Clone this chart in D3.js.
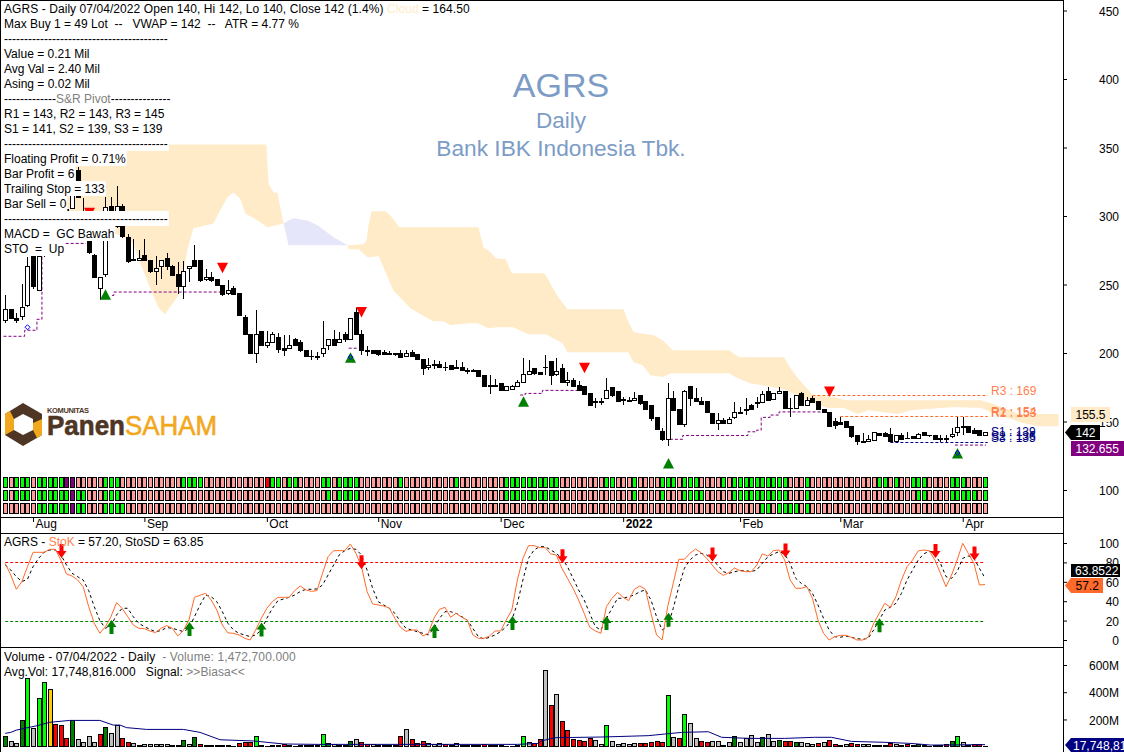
<!DOCTYPE html>
<html>
<head>
<meta charset="utf-8">
<title>AGRS Daily</title>
<script src="https://cdn.jsdelivr.net/npm/d3@7"></script>
<style>
	html, body { margin: 0; padding: 0; background: #fff; }
	svg { display: block; }
	text { font-family: "Liberation Sans", Arial, sans-serif; font-size: 12px; white-space: pre; fill: #000; }
</style>
</head>
<body>
<svg id="chart" width="1124" height="752"></svg>
<script>
// ── Candles ───────────────────────────────────────────────────────────────────
const opens = [
	223.5,231.5,225,227,235,270.5,245.3,272,282,295, 300,305,305.5,333,303,285,271.5,247,257,307,
	292,307,284,268.5,267.2,271.5,267.7,259.2,262.8,268.9, 263.3,257.4,248.7,261.6,267.4,267.4,253.3,255,253.6,249.2,
	243.4,247.2,243.4,225.6,213.7,199.6,215.9,205.2,207.4,211.3, 203.3,203.3,210.1,207.6,201.8,197.4,197.2,199.6,205.2,209.8,
	207.4,213.5,209.8,229.8,213.5,201.6,202.1,202,200.1,199.6, 199.6,199.6,197.2,200.1,198.9,195.2,189.4,191.6,191.8,189.7,
	191.1,189.4,189.7,187.2,187,187.5,183.6,176.3,176.3,178, 172.4,173.1,175.3,178.2,184,188.7,185.8,189.7,194,184,
	188.7,178.2,180.2,176.5,175.6,170.5,164.6,164.6,166.6,174.8, 171.9,165.8,165.6,165.1,169,164.6,161.7,153,142.8,136.9,
	166.8,158.8,147.9,175.6,166.8,164.6,164.6,156.1,148.6,150.8, 148.3,152.7,156.6,158.8,161.4,163.9,163.9,171.6,166.3,170.4,
	171.6,159.5,159.2,170.4,161.4,166.8,164.3,159,156.3,150.3, 149,150.3,146.6,139.8,135.4,135.2,136.4,141.3,141.3,140.5,
	135.2,139.5,137.6,139.3,137.4,141.7,139.6,140,137.4,137.4, 138.8,142,146.1,146.1,143.2,143.7,139.5
];
const highs = [
	242.5,231.5,229,250.5,270,275,272,285,298,303, 308,308,320,336,313,285,272,255,314,314,
	322,309,287,283,275,283,268,271,267.5,273, 264,266.4,267,263.3,278.6,268,261,259,254,249.5,
	253,248.7,243.6,228,214,231.2,216.2,216,215.4,214.7, 213,213,211,209.3,202,202,200.8,223.2,209.8,216.6,
	215.4,215.4,225.5,233.2,216.6,205,202.5,202,202.5,201.6, 200,202.5,202.5,202.5,199,195.4,196,194.8,194,193.5,
	191.5,194.8,193.5,188.7,188.2,187.7,183.8,183.8,180.7,178.2, 175.5,176.5,180.2,196,194.8,189,186,198.9,194.2,196,
	191.8,186.3,182.1,179.5,175.8,170.7,166.8,166.8,182.1,175, 172.1,168,168,171.2,169.2,164.8,161.9,153.2,144.9,177.8,
	172.2,159,172.9,175.8,174.1,168,164.8,156.3,155.9,152.2, 153.5,163.9,160.7,166.8,163,168,172.4,175.3,170.6,175.3,
	171.8,166.8,169.2,171.6,168,168.5,164.5,159.2,156.5,152.2, 153,150.5,146.8,140,141.3,140,141.9,141.5,142.5,145.6,
	139.7,141.7,142.5,139.5,141.7,141.9,140.5,140.2,140.5,140, 144.9,153,153,146.3,144.9,143.9,141.9
];
const lows = [
	222,224.5,222,224,233.5,246.5,245,270,280,293, 298,300,305,313,282,272,254.5,239,255.5,285,
	291,284,266,267,267,267,258.5,250,253.8,260.4, 256.5,243.4,239.2,252,262.8,251.9,252.6,252,248.8,241.4,
	242.6,242.5,227,213,199.4,192.8,205,204,207,200.1, 197.9,203,204.8,200.8,197,194.8,194.8,197.2,202,205,
	207.2,208.1,209.5,213,198.4,198,199.4,197.9,198.4,198.4, 198,196.3,197,197,195,184.1,187.5,188,189,187,
	187.5,188.5,187,184.6,186.3,183,175,170.2,175.3,172.2, 172.2,173,175.1,178,183.8,183.8,184,184.3,176.5,183.1,
	178,175.8,175.2,172.4,169.8,161.8,160,162,166.1,168, 164.7,162,164.4,164.9,162,158.8,150.5,143.7,135.7,132.3,
	158.1,147.4,146.2,161.2,164.2,162,156.2,148.1,143.7,148.1, 148.1,152,156,154.7,158.8,159.5,163.7,164.8,166.1,170.2,
	159,153.4,159,161.2,161.2,163.4,158.6,156.1,145.9,144.2, 147.9,145.4,138.3,132.8,134.8,135,136.2,139.6,139.1,135,
	135,136.7,137,137.2,137.2,139.3,139,136.9,135.2,135.2, 137.6,139.5,140,141.8,141.1,139.3,139.3
];
const closes = [
	231.5,225,223.5,233,263.5,248.7,270.5,282,295,300, 305,303,318.6,313.5,283,273,255,255,306,285,
	307,284.7,267,267.5,268.7,267.2,259.2,261.6,267.2,262.8, 256.7,248.7,259.2,263.3,262.8,253,255,253.1,249,242.9,
	245.5,242.9,227.1,213.2,199.6,213.5,205.4,207.4,213.5,202.8, 201.6,205.4,205.2,201.6,197.2,197.2,197,203.1,209.8,205.2,
	209.8,209.8,225.1,213.2,201.6,201.2,199.6,199.1,198.6,199.1, 198.9,196.5,199.6,197.2,195,188.4,191.1,190.6,189.2,189.2,
	188.2,188.7,187,186.5,186.5,183.1,175.3,175.6,175.6,172.4, 175.3,175.6,178.5,184.3,186.5,185,184.1,189.2,183.8,186.5,
	178.2,179.9,175.3,172.6,170,162,163.7,163.7,172.6,169.2, 164.9,165.4,164.9,166.8,163.2,159,152.5,144.5,136.7,166.8,
	158.3,147.6,171.9,166.6,164.4,162.2,156.4,148.3,150.5,148.3, 151.5,156.6,156.1,157.8,159,163.1,169.7,165,170.4,172.1,
	159.2,159.4,168.7,161.4,165,163.6,158.8,156.3,146.1,147.3, 148.1,145.6,139.3,135.2,135,136.9,141.7,139.8,139.3,135.2,
	139.5,136.9,137.4,137.4,140.3,139.5,139.5,137.1,137.2,137.2, 140.5,145.4,145.6,142,141.3,139.5,141.7
];

// ── Cloud edges, [bar, price] ─────────────────────────────────────────────────
const cloudFirstTop = [[11,352.2],[46.9,352.2],[47.3,323.8],[48.2,317.2],[48.9,317.2],[49.4,306.3],[50,294.6]];
const cloudFirstBottom = [[11,288],[19.4,288],[20.6,285.9],[23,280],[24.2,266.2],[25.5,253.1],[26.4,243.6],[27.5,233.4],[28.7,228.3],[29.6,233.4],[30.9,240.7],[31.8,253.1],[32.7,274.9],[33.8,291],[37.4,294.6],[38.6,304.1],[39.9,313.6],[41,317.2],[42.2,312.8],[43.1,301.9],[45.3,296.8],[47.1,291.7],[49.4,293.9],[50,294.6]];
const cloudBlueTop = [[50,294.6],[50.9,296.8],[51.8,298.3],[54.3,296.8],[56.1,293.2],[59,284.4],[61.5,278.6]];
const cloudBlueBottom = [[50,294.6],[50.9,278.6],[61.5,278.6]];
const cloudLastTop = [[61.5,278.6],[64.4,279.3],[64.9,282.2],[65.2,291.7],[65.8,303.4],[68.3,303.4],[69.2,300.4],[70.8,291.7],[85,291.7],[85.9,277.1],[87.2,273.5],[88.1,269.1],[89.9,268.4],[91,258.2],[96.9,258.2],[99.1,242.1],[101,231.9],[111.1,231.9],[111.8,223.9],[112.9,215.2],[116.5,213],[118.1,209.3],[119.9,202],[130,202],[131.8,196.9],[139.9,196.9],[141.1,188.9],[142.4,181.6],[145.1,169.2],[148.9,167.8],[151,165.6],[175.3,165.6],[177.1,163.4],[180.7,158.3],[182,155.4],[189.2,155.4]];
const cloudLastBottom = [[61.5,278.6],[61.7,275.7],[63.5,275.7],[65.1,269.8],[67.1,270.6],[68.7,255.3],[69.7,245.8],[72.8,232.7],[76.8,223.2],[78.7,223.2],[80,220.3],[83.2,221.7],[84.9,221.7],[86.8,218.1],[88.5,218.8],[91.2,218.8],[94,213.7],[97.1,213.7],[100.1,207.1],[101,200.6],[111.9,200.6],[112.9,193.3],[114.5,191.1],[115.9,183.8],[118.1,182.4],[119.6,185.3],[130,185.3],[131.6,181.6],[133.8,178],[139.9,173.6],[142.9,167.8],[146,162],[147.8,159.8],[150.7,159.8],[153.2,155.4],[155,158.3],[160.4,155.4],[162.7,158.3],[170.5,160.5],[175.3,159.8],[178.4,154.7],[183,148.8],[185.6,146.6],[189.2,146.6]];

// ── Trailing stop runs, [from bar, to bar, price], one list per unbroken run ──
const stopRuns = [
	[[-0.3,3.5,212.2],[3.5,5.7,216.6],[5.7,6.6,224.6],[6.6,14.5,280]],
	[[19.2,19.5,242],[19.5,38.7,244.5]],
	[[61.7,63.2,203.5]],
	[[92.5,93.4,169.3],[93.4,96.5,170.5],[96.5,103.4,172.7]],
	[[119.4,121.7,137],[121.7,133.4,139.8],[133.4,135,142.5],[135,135.8,143.7],[135.8,137.4,153],[137.4,139,154.7],[139,146.9,157]],
	[[170.6,176.2,132.8]]
];

// ── Signals ───────────────────────────────────────────────────────────────────
const buyBars = [18, 62, 93, 119, 171];
const buyPrices = [246.5, 200.6, 168.5, 123.3, 130.6];
const sellBars = [15, 39, 64, 104, 148];
const sellPrices = [298.3, 258.2, 226, 185.3, 167.8];
const diamondBars = [4, 62, 171];
const diamondPrices = [218.8, 197, 127];

const pivotNames = ['R3 : 169', 'R2 : 153', 'R1 : 154', 'S1 : 139', 'S2 : 136', 'S3 : 135'];
const pivotLevels = [169, 153, 154, 139, 136, 135];
const pivotLines = [[145, 176.5, 169, '#ff6a2a'], [150, 176.5, 154, '#ff6a2a'], [159, 176.5, 135, '#000080']];

// ── Strength strips, the bars that are not pink ───────────────────────────────
const stripGreen = [
	[0,2,3,4,6,7,8,9,10,18,19,20,32,33,34,35,48,49,51,52,57,58,60,61,62,63,71,81,90,91,92,93,94,95,96,97,98,99,108,109,113,118,119,120,122,123,124,129,131,132,133,134,135,136,137,138,139,140,144,157,158,160,163,164,165,170,171,172,176],
	[0,2,3,4,6,7,8,9,10,11,13,14,18,19,20,58,60,61,62,63,90,91,92,93,94,95,96,97,98,99,113,118,122,123,124,125,131,132,133,134,135,136,137,138,139,140,144,164,165,170,171,172,173,174,176],
	[6,7,8,9,10,11,13,14,18,19,20,21,136,137,139,140,141,142,144]
];
const stripPurple = [[11,12], [12], [12]];
const stripRed = [[47], [], []];

const monthNames = ['Aug', 'Sep', 'Oct', 'Nov', 'Dec', '2022', 'Feb', 'Mar', 'Apr'];
const monthBars = [5, 25, 47, 67, 89, 111, 132, 150, 172];

// ── Stochastic ────────────────────────────────────────────────────────────────
const stoK = [
	79,67,52.3,60.2,75.6,90.4,90.4,90.4,93.5,93.5, 82.5,68.1,66,61.9,55,34.4,17.2,6.9,13.8,24.1,
	38.5,32.7,24.1,15.5,12.1,11.7,9.3,7.6,12.1,14.8, 12.1,4.2,9.7,20.7,44,46.1,48.2,41.3,31,15.5,
	7.3,6.9,5.2,1.8,0,10.4,22.4,32.7,39.6,44, 44,44,50.9,55.7,51.6,50.2,50.9,68.8,86,92.1,
	92.1,92.1,99,89.4,75.6,49.9,37.2,36.1,35,33, 22.3,13.1,8.9,10.3,10.3,4.1,6.9,22.3,31.6,33.7,
	23.4,27.5,23.4,20.6,5.2,1.7,1.7,4.1,9.3,9.3, 20.6,30.9,61.9,84.2,97.3,97.3,95.2,95.2,88.7,87.6,
	73.9,63.6,53.3,41.2,27.5,13.1,9.3,6.9,34.4,43, 49.1,44,40.6,52.2,55.7,52.2,27.5,5.2,0,34.4,
	58.4,83.2,83.2,89.3,93.8,90,84.2,77.3,70.4,66.7, 69.4,74.2,71.5,70.4,70.4,77.3,88.7,86.6,92.1,92.8,
	82.5,61.9,53.3,53.3,55,43,20.6,6.9,0,3.4, 4.8,4.8,2.8,0,0,2.8,17.2,27.5,37.8,33.7,
	44.7,61.9,75.6,82.5,91.8,92.8,91.8,82.5,68.7,55, 67,82.5,99.7,89.3,79,56.7,57.2
];
const stoD = [
	77.4,72.2,65.3,60.2,62.6,75.6,84.2,90.4,92.8,92.8, 87.7,77.4,68.8,65.3,61.9,50.9,34.4,20,12.1,14.8,
	25.8,32.7,32.7,24.1,17.2,13.8,11,8.6,9.7,12.8, 12.1,10.4,8.6,12.1,24.1,36.1,46.4,44.7,39.6,29.3,
	17.2,10.4,6.9,5.2,3.5,5.2,10.4,22.4,32.7,40.6, 42.3,44,46.4,49.9,52.3,52.3,52.6,56.7,67,77.4,
	87.7,92.1,94.5,93.5,87.7,72.2,53.3,39.5,36.1,32.7, 27.5,18.9,12,10.3,8.6,6.9,5.2,12,22.3,29.2,
	29.2,27.5,24.1,20.6,12,3.4,1,2.8,5.2,8.6, 13.8,20.6,37.8,61.9,84.2,92.8,96.2,96.2,92.8,89.3,
	84.2,75.6,63.6,51.6,41.2,27.5,13.8,10.3,22.3,32.7, 43,43,44.7,46.4,49.8,51.6,41.2,24.1,10.3,13.8,
	32.7,55,73.9,82.5,87.6,89.3,87.6,82.5,77.3,70.4, 68.7,70.4,71.5,71.5,70.4,72.2,79,85.9,88.7,91.1,
	88.7,79,63.6,58.4,55,48.1,36.1,22.3,10.3,3.4, 2.8,4.1,2.8,1.4,0.7,1.7,10.3,20.6,30.9,33.7,
	37.8,48.1,61.9,72.2,82.5,88.7,91.8,88.7,79,65.3, 63.6,70.4,84.2,86.6,84.2,73.9,63.9
];
const stoLevels = [80, 20];
const stoLevelColors = ['#ff0000', '#008000'];
const stoUpBars = [19, 33, 46, 77, 91, 108, 119, 157];
const stoUpTips = [20.6, 18.6, 18, 16.5, 24.7, 24.7, 28, 22.4];
const stoDownBars = [10, 64, 100, 127, 140, 167, 174];
const stoDownTips = [84.5, 73, 79, 81, 85, 84.5, 82];

// ── Volume, millions ──────────────────────────────────────────────────────────
const volumes = [
	73.5,37,24.5,193,502,135,355,473,421,164, 154,61,193,51,32,76,32,91,142,98,
	154,61,32,24,12,17,17,17,17,17, 10,12,42,17,66,17,10,10,10,7,
	7,5,24,34,34,76,10,2,10,10, 17,12,3,10,10,10,10,91,24,17,
	12,12,37,51,32,17,17,12,12,7, 7,76,127,51,22,37,22,17,22,17,
	10,22,10,7,7,7,17,10,10,10, 2,2,10,76,32,20,54,561,304,385,
	186,120,54,47,37,61,47,17,157,37, 17,24,17,24,24,24,32,39,32,377,
	69,61,238,172,61,39,32,39,39,10, 32,76,32,61,83,32,66,91,37,47,
	39,39,32,32,24,17,24,34,47,17, 7,17,24,17,17,17,10,10,10,24,
	17,10,17,10,17,10,5,10,10,17, 37,76,32,12,17,17,1.5
];
const volumeKinds = 'daadlallyr' + 'rrdaaaarda' + 'arraaaaaaa' + 'aadadraaaa' + 'aarrrlaaaa' + 'raaaaaalda' + 'aadarraaaa' + 'ararrraaar'
	+ 'aaaaaaraaa' + 'aaalarrara' + 'rrrrrraala' + 'aaaarrrrrl' + 'arlaarraaa' + 'adaaaadaad' + 'rrdaaararr' + 'aarraaaaar' + 'aaradaaaar' + 'dlaarra';
const volumeColors = { d: '#008000', a: '#c0c0c0', l: '#00ff00', r: '#ff0000', y: '#ffcc00' };
const avgVolBars = [0,1,2,5.7,8,11.6,17,19.4,20.6,21.8,25.4,32,35,38.6,44.6,50,56,66,92,95.7,96.3,98.7,107,115.5,118.5,121.5,126.3,128.7,133.8,140,145.4,148.4,152,158,162.7,166.3,176];
const avgVolValues = [98,105,122,154,179,193,193,159,159,140,127,127,105,51,42,20,17,17,17,24,42,66,71,81,93,105,110,69,61,61,69,69,39,32,24,12,15];

// ── Axis ticks ────────────────────────────────────────────────────────────────
const priceTicks = [100, 150, 200, 250, 300, 350, 400, 450];
const stoTicks = [0, 20, 40, 60, 80, 100];
const volumeTicks = [200, 400, 600];

// ── Text rows at the top left, [text, colour] runs ────────────────────────────
const RULE = '-'.repeat(41);
const infoRows = [
	[['AGRS - Daily 07/04/2022 Open 140, Hi 142, Lo 140, Close 142 (1.4%) '], ['Cloud', '#ffebc8'], [' = 164.50']],
	[['Max Buy 1 = 49 Lot  --   VWAP = 142  --   ATR = 4.77 %']],
	[[RULE]],
	[['Value = 0.21 Mil']],
	[['Avg Val = 2.40 Mil']],
	[['Asing = 0.02 Mil']],
	[['-'.repeat(13)], ['S&R Pivot', '#808080'], ['-'.repeat(15)]],
	[['R1 = 143, R2 = 143, R3 = 145']],
	[['S1 = 141, S2 = 139, S3 = 139']],
	[[RULE]],
	[['Floating Profit = 0.71%']],
	[['Bar Profit = 6']],
	[['Trailing Stop = 133']],
	[['Bar Sell = 0']],
	[[RULE]],
	[['MACD =  GC Bawah']],
	[['STO  =  Up']]
];

// ── Scales ────────────────────────────────────────────────────────────────────
const AXIS_X = 1063;
const svg = d3.select('#chart');
const x = d3.scaleLinear().domain([0, 176]).range([5.2, 985]);
const yPrice = d3.scaleLinear().domain([100, 450]).range([490, 10.5]);
const ySto = d3.scaleLinear().domain([0, 100]).range([640, 543]);
const yVol = d3.scaleLinear().domain([0, 600]).range([746.7, 665]);
const barX = i => Math.round(x(i)) + 0.5;
const bars = d3.range(opens.length);

// ── Cloud ─────────────────────────────────────────────────────────────────────
const edge = d3.line().x(d => x(d[0])).y(d => yPrice(d[1]));
function drawCloud(top, bottom, color) {
	svg.append('path')
		.attr('d', edge(top.concat(bottom.slice().reverse())) + 'Z')
		.attr('fill', color);
}
drawCloud(cloudFirstTop, cloudFirstBottom, '#ffebc8');
drawCloud(cloudBlueTop, cloudBlueBottom, '#e6e6fa');
drawCloud(cloudLastTop, cloudLastBottom, '#ffebc8');

// ── Pivot and stop lines ──────────────────────────────────────────────────────
svg.append('g').selectAll('line').data(pivotLines).join('line')
	.attr('x1', d => x(d[0]))
	.attr('x2', d => x(d[1]))
	.attr('y1', d => Math.round(yPrice(d[2])) + 0.5)
	.attr('y2', d => Math.round(yPrice(d[2])) + 0.5)
	.attr('stroke', d => d[3])
	.attr('stroke-dasharray', '3,2');

stopRuns.forEach(run => {
	const pts = [];
	run.forEach(seg => { pts.push([seg[0], seg[2]], [seg[1], seg[2]]); });
	svg.append('path')
		.attr('d', edge(pts))
		.attr('fill', 'none')
		.attr('stroke', '#800080')
		.attr('stroke-dasharray', '3,2');
});

// ── Candles ───────────────────────────────────────────────────────────────────
const candles = svg.append('g').attr('shape-rendering', 'crispEdges');
candles.selectAll('line').data(bars).join('line')
	.attr('x1', barX).attr('x2', barX)
	.attr('y1', i => yPrice(highs[i]))
	.attr('y2', i => yPrice(lows[i]))
	.attr('stroke', '#000');
candles.selectAll('rect').data(bars).join('rect')
	.attr('x', i => barX(i) - 2)
	.attr('width', 4)
	.attr('y', i => yPrice(Math.max(opens[i], closes[i])))
	.attr('height', i => Math.abs(yPrice(opens[i]) - yPrice(closes[i])))
	.attr('fill', i => closes[i] >= opens[i] ? '#fff' : '#000')
	.attr('stroke', '#000');

// ── Signal triangles ──────────────────────────────────────────────────────────
svg.append('g').selectAll('path').data(buyBars).join('path')
	.attr('d', (b, k) => `M${barX(b)},${yPrice(buyPrices[k])}l5.5,10.5h-11z`)
	.attr('fill', '#008000');
svg.append('g').selectAll('path').data(sellBars).join('path')
	.attr('d', (b, k) => `M${barX(b)},${yPrice(sellPrices[k])}l-5.5,-10.5h11z`)
	.attr('fill', '#ff0000');
svg.append('g').selectAll('path').data(diamondBars).join('path')
	.attr('d', (b, k) => `M${barX(b)},${yPrice(diamondPrices[k]) - 2.5}l2.5,2.5l-2.5,2.5l-2.5,-2.5z`)
	.attr('fill', 'none')
	.attr('stroke', '#0000ff');

svg.append('g').selectAll('text').data(pivotNames).join('text')
	.attr('x', 991)
	.attr('y', (d, k) => yPrice(pivotLevels[k]) - 0.5)
	.style('fill', (d, k) => k < 3 ? '#ff7f50' : '#000080')
	.text(d => d);

// ── Strength strips ───────────────────────────────────────────────────────────
stripGreen.forEach((green, row) => {
	svg.append('g').attr('shape-rendering', 'crispEdges')
		.selectAll('rect').data(bars).join('rect')
		.attr('x', i => barX(i) - 2)
		.attr('y', 477.5 + row * 13)
		.attr('width', 4)
		.attr('height', 10)
		.attr('stroke', '#000')
		.attr('fill', i => {
			if (stripPurple[row].includes(i)) return '#800080';
			if (stripRed[row].includes(i)) return '#ff0000';
			return green.includes(i) ? '#00ff00' : '#ff9c9c';
		});
});

// ── Stochastic ────────────────────────────────────────────────────────────────
svg.append('g').selectAll('line').data(stoLevels).join('line')
	.attr('x1', x(0)).attr('x2', 985)
	.attr('y1', d => Math.round(ySto(d)) + 0.5)
	.attr('y2', d => Math.round(ySto(d)) + 0.5)
	.attr('stroke', (d, k) => stoLevelColors[k])
	.attr('stroke-dasharray', '3,2');

const stoLine = d3.line().x((v, i) => x(i)).y(v => ySto(v));
svg.append('path').attr('d', stoLine(stoD)).attr('fill', 'none').attr('stroke', '#000').attr('stroke-dasharray', '3,3');
svg.append('path').attr('d', stoLine(stoK)).attr('fill', 'none').attr('stroke', '#ff6a2a');

// arrows, tip first
function arrow(cx, tip, dir) {
	return `M${cx},${tip}l5,${dir * 7}h-3v${dir * 7}h-4v${-dir * 7}h-3z`;
}
svg.append('g').selectAll('path').data(stoUpBars).join('path')
	.attr('d', (b, k) => arrow(barX(b), ySto(stoUpTips[k]), 1))
	.attr('fill', '#008000');
svg.append('g').selectAll('path').data(stoDownBars).join('path')
	.attr('d', (b, k) => arrow(barX(b), ySto(stoDownTips[k]), -1))
	.attr('fill', '#ff0000');

// ── Volume ────────────────────────────────────────────────────────────────────
svg.append('g').attr('shape-rendering', 'crispEdges')
	.selectAll('rect').data(bars).join('rect')
	.attr('x', i => barX(i) - 2)
	.attr('width', 4)
	.attr('y', i => yVol(volumes[i]))
	.attr('height', i => yVol(0) - yVol(volumes[i]))
	.attr('fill', i => volumeColors[volumeKinds[i]])
	.attr('stroke', '#000');
svg.append('path')
	.attr('d', d3.line().x((b, k) => x(b)).y((b, k) => yVol(avgVolValues[k]))(avgVolBars))
	.attr('fill', 'none')
	.attr('stroke', '#000080');

// ── Frame ─────────────────────────────────────────────────────────────────────
const frame = svg.append('g').attr('stroke', '#000').attr('shape-rendering', 'crispEdges');
frame.append('line').attr('x1', 0.5).attr('x2', 0.5).attr('y1', 0).attr('y2', 752);
frame.append('line').attr('x1', 0).attr('x2', AXIS_X).attr('y1', 0.5).attr('y2', 0.5);
[517, 533, 647].forEach(y => {
	frame.append('line').attr('x1', 0).attr('x2', AXIS_X).attr('y1', y + 0.5).attr('y2', y + 0.5);
});
frame.append('line').attr('x1', AXIS_X + 0.5).attr('x2', AXIS_X + 0.5).attr('y1', 0).attr('y2', 752);

// ── Axes ──────────────────────────────────────────────────────────────────────
function rightAxis(scale, ticks, fmt) {
	const g = svg.append('g')
		.attr('transform', `translate(${AXIS_X},0)`)
		.call(d3.axisRight(scale).tickValues(ticks).tickFormat(fmt).tickSize(4));
	g.select('.domain').remove();
	g.selectAll('text')
		.attr('x', 56)
		.attr('dy', '0.38em')
		.attr('text-anchor', 'end');
	g.selectAll('line').attr('stroke', '#000');
}
rightAxis(yPrice, priceTicks, d => d);
rightAxis(ySto, stoTicks, d => d);
rightAxis(yVol, volumeTicks, d => d + 'M');

const monthAxis = svg.append('g')
	.attr('transform', 'translate(0,517)')
	.call(d3.axisBottom(x).tickValues(monthBars).tickFormat((d, k) => monthNames[k]).tickSize(5).tickPadding(0));
monthAxis.select('.domain').remove();
monthAxis.selectAll('line').attr('stroke', '#000');
monthAxis.selectAll('text')
	.attr('x', 2)
	.attr('y', 2)
	.attr('text-anchor', 'start')
	.style('font-weight', d => d === 111 ? 'bold' : 'normal');

// ── Centre titles ─────────────────────────────────────────────────────────────
const titleColor = '#7c9cc6';
[['AGRS', 97, 34], ['Daily', 128, 22.5], ['Bank IBK Indonesia Tbk.', 156, 22.7]].forEach(t => {
	svg.append('text')
		.attr('x', 561)
		.attr('y', t[1])
		.attr('text-anchor', 'middle')
		.style('font-size', t[2] + 'px')
		.style('fill', titleColor)
		.text(t[0]);
});

// ── Logo ──────────────────────────────────────────────────────────────────────
const logo = svg.append('g').attr('transform', 'translate(5,403)');
logo.append('path').attr('fill', '#4e3524').attr('fill-rule', 'evenodd')
	.attr('d', 'M18,0L37,11V32L18,43L0,32V11ZM18,11L9,16V27L18,32L28,27V16Z');
logo.append('path').attr('fill', '#f2a81d').attr('d', 'M0,11L5,8L9,16V27L0,32Z');
logo.append('path').attr('fill', '#f2a81d').attr('d', 'M37,16V32L32,35L28,27V20Z');
logo.append('text').attr('x', 42).attr('y', 10).style('font-size', '7.5px').style('font-weight', 'bold').style('fill', '#4e3524')
	.attr('textLength', 42).text('KOMUNITAS');
logo.append('text').attr('x', 42).attr('y', 32).style('font-size', '27px').style('font-weight', 'bold').style('fill', '#4e3524')
	.style('stroke', '#4e3524').style('stroke-width', '0.6px')
	.attr('textLength', 78).attr('lengthAdjust', 'spacingAndGlyphs').text('Panen');
logo.append('text').attr('x', 120).attr('y', 32).style('font-size', '27px').style('fill', '#f2a81d')
	.style('stroke', '#f2a81d').style('stroke-width', '0.6px')
	.attr('textLength', 92).attr('lengthAdjust', 'spacingAndGlyphs').text('SAHAM');

// ── Text rows with their white backing ────────────────────────────────────────
function textRow(rowTop, runs, backing, spacing) {
	const bg = backing ? svg.append('rect').attr('fill', '#fff').attr('x', 2).attr('y', rowTop).attr('height', 15) : null;
	const t = svg.append('text').attr('x', 4).attr('y', rowTop + 12);
	if (spacing) t.style('letter-spacing', spacing + 'px');
	runs.forEach(r => {
		t.append('tspan').text(r[0]).style('fill', r[1] || '#000');
	});
	if (bg) bg.attr('width', t.node().getComputedTextLength() + 3);
}
infoRows.forEach((runs, n) => textRow(1 + 15 * n, runs, true, n === 0 ? 0.07 : 0));
textRow(534, [['AGRS - '], ['StoK', '#ff7f50'], [' = 57.20, StoSD = 63.85']], false);
textRow(649, [['Volume - 07/04/2022 - Daily  '], ['- Volume: 1,472,700.000', '#808080']], false, 0.12);
textRow(664, [['Avg.Vol: 17,748,816.000   Signal: '], ['>>Biasa<<', '#808080']], false, 0.05);

// ── Value flags on the right ──────────────────────────────────────────────────
function flag(text, y0, h, x0, x1, fill, color, pointed, anchorX) {
	const d = pointed
		? `M${x0},${y0 + h / 2}L${x0 + 6},${y0}H${x1}V${y0 + h}H${x0 + 6}Z`
		: `M${x0},${y0}H${x1}V${y0 + h}H${x0}Z`;
	svg.append('path').attr('d', d).attr('fill', fill);
	svg.append('text')
		.attr('x', anchorX)
		.attr('y', y0 + h / 2 + 4.5)
		.style('fill', color)
		.text(text);
}
flag('155.5', 407, 15, 1071, 1110, '#ffebc8', '#000', false, 1075.5);
flag('142', 425, 15, 1065, 1100, '#000', '#fff', true, 1075.5);
flag('132.655', 441, 15, 1071, 1124, '#800080', '#fff', false, 1075.5);
flag('63.8522', 564, 13, 1071, 1120, '#000', '#fff', false, 1075);
flag('57.2', 578, 15, 1065, 1103, '#ff6a2a', '#000', true, 1075.5);
flag('17,748,816', 738, 14, 1065, 1124, '#000080', '#fff', true, 1073);
</script>
</body>
</html>
